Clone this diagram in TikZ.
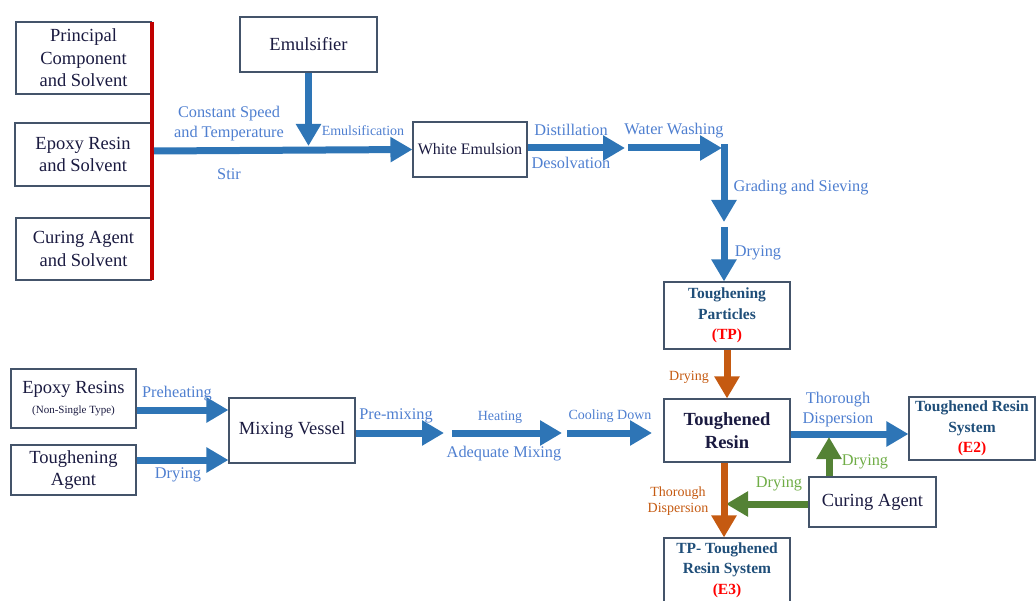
\documentclass[tikz,border=0pt]{standalone}
\usepackage{fontspec}
\setmainfont{Liberation Serif}
\usetikzlibrary{arrows.meta}
\definecolor{boxline}{HTML}{44546A}
\definecolor{boxtext}{HTML}{1A1A40}
\definecolor{boldtext}{HTML}{1F4E79}
\definecolor{flowblue}{HTML}{2E75B6}
\definecolor{lblblue}{HTML}{4F7FD0}
\definecolor{flowor}{HTML}{C55A11}
\definecolor{flowgr}{HTML}{548235}
\definecolor{lblgr}{HTML}{70AD47}
\definecolor{barred}{HTML}{C00000}
\definecolor{tagred}{HTML}{FF0000}
\begin{document}
\begin{tikzpicture}[x=1pt,y=-1pt,
  box/.style={draw=boxline, line width=1.1pt, text=boxtext, align=center, inner sep=0pt,
    font=\fontsize{18.5}{22.5}\selectfont},
  bbox/.style={box, text=boldtext, font=\fontsize{15.5}{20.5}\selectfont\bfseries},
  flow/.style={line width=7pt, -{Triangle[length=22pt,width=24pt]}, flowblue},
  lbl/.style={text=lblblue, align=center, inner sep=0pt, font=\fontsize{16.3}{20}\selectfont},
  slbl/.style={lbl, font=\fontsize{14}{16.5}\selectfont}]
  \useasboundingbox (0,0) rectangle (1036,601);
  % upper part: emulsion route
  \node[box, minimum width=135pt, minimum height=72pt] (pcs) at (83.5,58) {Principal\\Component\\and Solvent};
  \node[box, minimum width=136pt, minimum height=63pt] (ers) at (83,154.5) {Epoxy Resin\\and Solvent};
  \node[box, minimum width=135pt, minimum height=62pt] (cas) at (83.5,249) {Curing Agent\\and Solvent};
  \draw[barred, line width=4pt] (152,22) -- (152,280);
  \coordinate (barmid) at (154,151);
  \node[box, minimum width=137pt, minimum height=55pt] (emul) at (308.5,44.5) {Emulsifier};
  \node[box, minimum width=114pt, minimum height=55pt, font=\fontsize{16}{20}\selectfont] (white) at (470,149.5) {White Emulsion};
  \coordinate (emuljoin) at (308.5,146);
  \draw[flow] (barmid) -- (white.west);
  \draw[flow] (emul.south) -- (emuljoin);
  \node[lbl] (speed) at (229,124) {Constant Speed\\and Temperature};
  \node[lbl] (stir) at (229,174) {Stir};
  \node[slbl] (emulsif) at (363,131) {Emulsification};
  \coordinate (distend) at (625,148);
  \coordinate (washstart) at (628,148);
  \coordinate (washend) at (722,148);
  \coordinate (corner) at (724,144.5);
  \coordinate (sievend) at (724,222);
  \coordinate (drystart) at (724,227);
  \draw[flow] (white.east |- distend) -- (distend);
  \draw[flow] (washstart) -- (washend);
  \draw[flow] (corner) -- (sievend);
  \node[lbl] (distil) at (571,130) {Distillation};
  \node[lbl] (desolv) at (571,163) {Desolvation};
  \node[lbl] (wash) at (674,131) {Water Washing};
  \node[lbl] (sieve) at (801,188) {Grading and Sieving};
  \node[bbox, minimum width=126pt, minimum height=67pt] (tp) at (727,315.5) {Toughening\\Particles\\\textcolor{tagred}{(TP)}};
  \draw[flow] (drystart) -- (tp.north -| drystart);
  \node[lbl] (dry1) at (758,253) {Drying};
  % lower part: mixing route
  \node[box, minimum width=125pt, minimum height=59pt] (eprs) at (73.5,398.5) {Epoxy Resins\\[-2pt]{\fontsize{11}{13}\selectfont(Non-Single Type)}};
  \node[box, minimum width=125pt, minimum height=50pt] (tagent) at (73.5,470) {Toughening\\Agent};
  \node[box, minimum width=126pt, minimum height=65pt] (mv) at (292,430.5) {Mixing Vessel};
  \draw[flow] (eprs.east |- 0,410) -- (mv.west |- 0,410);
  \draw[flow] (tagent.east |- 0,460) -- (mv.west |- 0,460);
  \node[lbl] (preheat) at (177,394) {Preheating};
  \node[lbl] (dry2) at (178,475) {Drying};
  \coordinate (premixend) at (444,433);
  \coordinate (heatstart) at (452,433);
  \coordinate (heatend) at (562,433);
  \coordinate (coolstart) at (567,433);
  \coordinate (coolend) at (652,433);
  \draw[flow] (mv.east |- premixend) -- (premixend);
  \draw[flow] (heatstart) -- (heatend);
  \draw[flow] (coolstart) -- (coolend);
  \node[lbl] (premix) at (396,416) {Pre-mixing};
  \node[slbl] (heat) at (500,417) {Heating};
  \node[lbl] (adeq) at (504,454) {Adequate Mixing};
  \node[slbl] (cool) at (610,416) {Cooling Down};
  % resin systems
  \node[box, minimum width=126pt, minimum height=63pt, font=\fontsize{18.5}{23}\selectfont\bfseries] (tr) at (727,430.5) {Toughened\\Resin};
  \node[bbox, minimum width=126pt, minimum height=63pt] (trs) at (972,428.5) {Toughened Resin\\System\\\textcolor{tagred}{(E2)}};
  \node[box, minimum width=127pt, minimum height=50pt] (ca) at (872.5,502) {Curing Agent};
  \node[bbox, minimum width=126pt, minimum height=64pt] (tptrs) at (727,570) {TP- Toughened\\Resin System\\\textcolor{tagred}{(E3)}};
  \coordinate (cajoin) at (829,437);
  \coordinate (trjoin) at (726,504);
  \draw[flow, flowor] (tp.south -| tr.north) -- (tr.north);
  \draw[flow] (tr.east |- 0,434) -- (trs.west |- 0,434);
  \draw[flow, flowgr] (ca.north -| cajoin) -- (cajoin);
  \draw[flow, flowgr] (ca.west |- trjoin) -- (trjoin);
  \draw[flow, flowor] (tr.south -| 724,0) -- (tptrs.north -| 724,0);
  \node[slbl, text=flowor] (dry3) at (689,377) {Drying};
  \node[lbl] (disp1) at (838,410) {Thorough\\Dispersion};
  \node[lbl, text=lblgr] (dry4) at (865,462) {Drying};
  \node[lbl, text=lblgr] (dry5) at (779,484) {Drying};
  \node[slbl, text=flowor] (disp2) at (678,501) {Thorough\\Dispersion};
\end{tikzpicture}
\end{document}
